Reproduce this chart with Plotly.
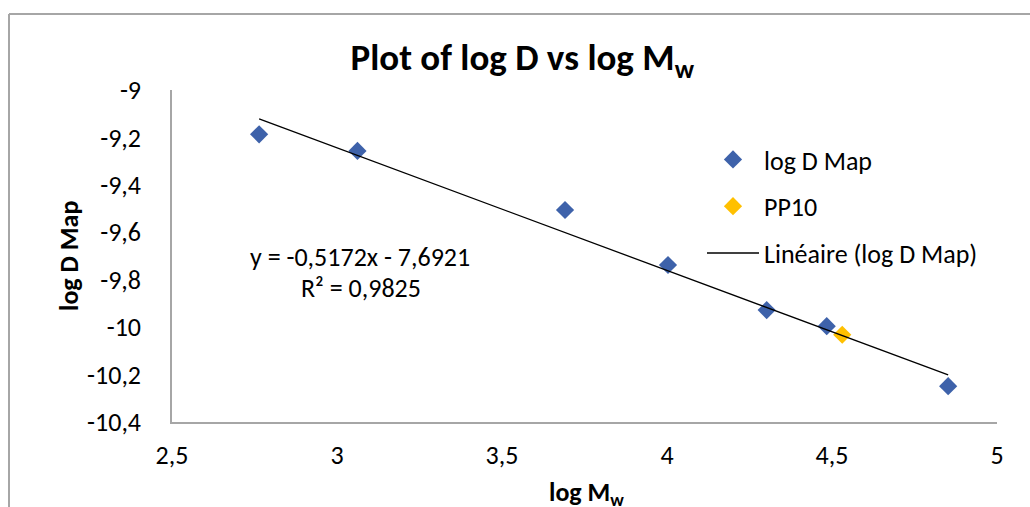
import plotly.graph_objects as go

# Data
log_mw = [2.764, 3.062, 3.691, 4.003, 4.302, 4.484, 4.852]
log_d_map = [-9.187, -9.257, -9.506, -9.738, -9.928, -9.996, -10.249]
pp10_x = [4.531]
pp10_y = [-10.032]
slope = -0.5172
intercept = -7.6921
equation_text = "y = -0,5172x - 7,6921"
r2_text = "R² = 0,9825"

x_tickvals = [2.5, 3, 3.5, 4, 4.5, 5]
x_ticktext = ["2,5", "3", "3,5", "4", "4,5", "5"]
y_tickvals = [-9, -9.2, -9.4, -9.6, -9.8, -10, -10.2, -10.4]
y_ticktext = ["-9", "-9,2", "-9,4", "-9,6", "-9,8", "-10", "-10,2", "-10,4"]

FONT = "Carlito, Lato, sans-serif"
BLUE = "#3e62aa"
GOLD = "#FFC000"

trend_x = [min(log_mw), max(log_mw)]
trend_y = [slope * v + intercept for v in trend_x]

fig = go.Figure()
fig.add_trace(go.Scatter(
    x=log_mw, y=log_d_map, mode="markers", name="log D Map",
    legendgroup="a",
    marker=dict(symbol="diamond", size=14, color=BLUE, line=dict(width=0)),
))
fig.add_trace(go.Scatter(
    x=pp10_x, y=pp10_y, mode="markers", name="PP10",
    legendgroup="b",
    marker=dict(symbol="diamond", size=14, color=GOLD, line=dict(width=0)),
))
fig.add_trace(go.Scatter(
    x=trend_x, y=trend_y, mode="lines", name="Linéaire (log D Map)",
    legendgroup="c",
    line=dict(color="black", width=1.3),
))

axis_line = "#a6a6a6"
FS = 26
fig.update_layout(
    width=1030, height=507,
    paper_bgcolor="white", plot_bgcolor="white",
    margin=dict(l=172, r=33, t=90, b=85),
    font=dict(family=FONT, size=FS, color="black"),
    title=dict(
        text="<b>Plot of log D vs log M<sub>w</sub></b>",
        x=0.507, xanchor="center", xref="container",
        y=1 - 57 / 507, yanchor="middle", yref="container",
        font=dict(family=FONT, size=37, color="black"),
    ),
    xaxis=dict(
        range=[2.5, 5], tickvals=x_tickvals, ticktext=x_ticktext,
        showgrid=False, zeroline=False, showline=True,
        linecolor=axis_line, linewidth=1.5, ticks="",
        ticklabelstandoff=9, tickfont=dict(size=FS),
    ),
    yaxis=dict(
        range=[-10.4, -9], tickvals=y_tickvals, ticktext=y_ticktext,
        showgrid=False, zeroline=False, showline=True,
        linecolor=axis_line, linewidth=1.5, ticks="",
        ticklabelstandoff=24, tickfont=dict(size=FS),
    ),
    showlegend=True,
    legend=dict(
        x=(702 - 172) / 825, y=(422 - 136) / 332,
        xanchor="left", yanchor="top",
        bgcolor="rgba(0,0,0,0)", borderwidth=0,
        font=dict(family=FONT, size=FS),
        traceorder="grouped", tracegroupgap=10, itemwidth=52,
    ),
    annotations=[
        dict(text=equation_text, x=(360 - 172) / 825, y=(422 - 257) / 332,
             xref="paper", yref="paper", showarrow=False,
             xanchor="center", yanchor="middle", font=dict(size=FS)),
        dict(text=r2_text, x=(361 - 172) / 825, y=(422 - 288) / 332,
             xref="paper", yref="paper", showarrow=False,
             xanchor="center", yanchor="middle", font=dict(size=FS)),
        dict(text="<b>log D Map</b>", x=(69 - 172) / 825, y=0.5,
             xref="paper", yref="paper", showarrow=False, textangle=-90,
             xanchor="center", yanchor="middle", font=dict(size=FS)),
        dict(text="<b>log M<sub>w</sub></b>", x=(586 - 172) / 825, y=(422 - 493) / 332,
             xref="paper", yref="paper", showarrow=False,
             xanchor="center", yanchor="middle", font=dict(size=FS)),
    ],
    shapes=[
        dict(type="line", xref="paper", yref="paper",
             x0=(9 - 172) / 825, x1=(9 - 172) / 825,
             y0=(422 - 14) / 332, y1=(422 - 540) / 332,
             line=dict(color="#a6a6a6", width=2)),
        dict(type="line", xref="paper", yref="paper",
             x0=(9 - 172) / 825, x1=(1060 - 172) / 825,
             y0=(422 - 14) / 332, y1=(422 - 14) / 332,
             line=dict(color="#a6a6a6", width=2)),
    ],
)

fig.write_html("out.html")
